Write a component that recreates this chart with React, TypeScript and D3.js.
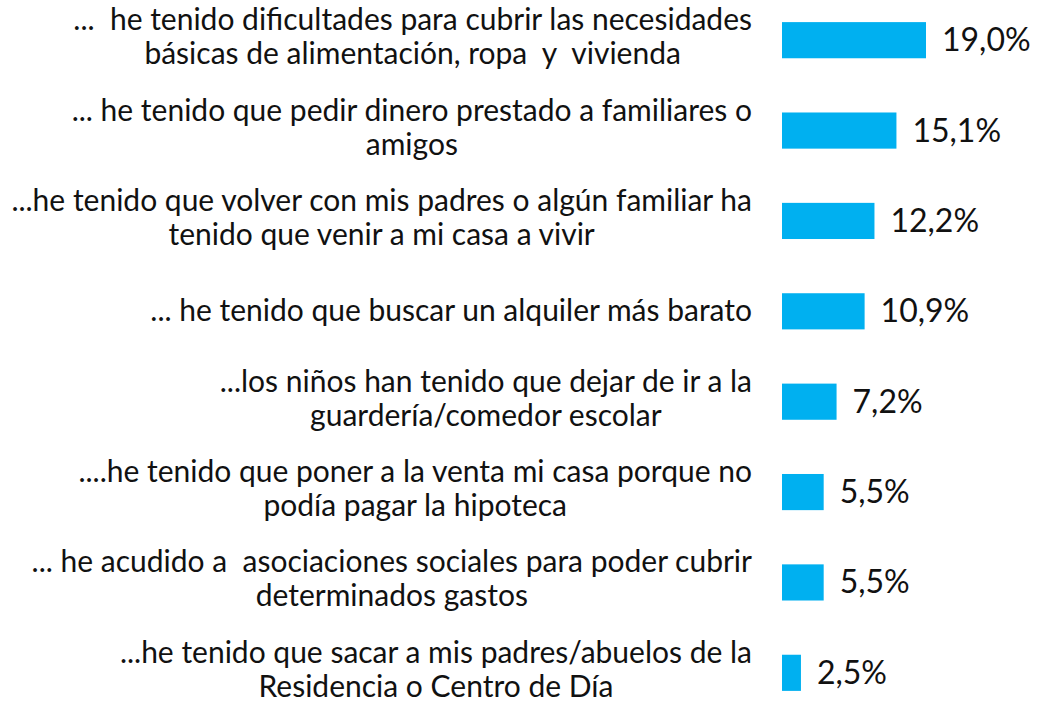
import React, { useEffect, useRef } from "react";
import * as d3 from "d3";

const categories = [
  ["...  he tenido dificultades para cubrir las necesidades", "básicas de alimentación, ropa  y  vivienda"],
  ["... he tenido que pedir dinero prestado a familiares o", "amigos"],
  ["...he tenido que volver con mis padres o algún familiar ha", "tenido que venir a mi casa a vivir"],
  ["... he tenido que buscar un alquiler más barato"],
  ["...los niños han tenido que dejar de ir a la", "guardería/comedor escolar"],
  ["....he tenido que poner a la venta mi casa porque no", "podía pagar la hipoteca"],
  ["... he acudido a  asociaciones sociales para poder cubrir", "determinados gastos"],
  ["...he tenido que sacar a mis padres/abuelos de la", "Residencia o Centro de Día"],
];
const values = [19.0, 15.1, 12.2, 10.9, 7.2, 5.5, 5.5, 2.5];
const valueLabels = ["19,0%", "15,1%", "12,2%", "10,9%", "7,2%", "5,5%", "5,5%", "2,5%"];

const width = 1038;
const height = 704;
const barLeft = 782;
const labelRight = 752;

export default function App() {
  const ref = useRef<SVGSVGElement>(null);

  useEffect(() => {
    const svg = d3.select(ref.current);
    svg.selectAll("*").remove();

    const y = d3
      .scaleBand()
      .domain(d3.range(values.length).map(String))
      .range([-5, 718])
      .paddingInner(0.6)
      .paddingOuter(0.3);

    const x = d3.scaleLinear().domain([0, 19]).range([barLeft, barLeft + 144]);

    const rows = svg
      .selectAll("g.row")
      .data(values)
      .join("g")
      .attr("class", "row");

    rows
      .append("rect")
      .attr("x", x(0))
      .attr("y", (d, i) => y(String(i)))
      .attr("width", (d) => x(d) - x(0))
      .attr("height", y.bandwidth())
      .attr("fill", "#00B0F0");

    rows
      .append("text")
      .attr("x", (d) => x(d) + 16)
      .attr("y", (d, i) => y(String(i)) + y.bandwidth() / 2 + 11)
      .attr("font-family", "Lato, sans-serif")
      .attr("font-size", 32)
      .attr("fill", "#111")
      .text((d, i) => valueLabels[i]);

    // category labels: centered lines, block right-aligned to labelRight
    rows.each(function (d, i) {
      const lines = categories[i];
      const cy = y(String(i)) + y.bandwidth() / 2;
      const g = d3.select(this).append("g");
      const texts = g
        .selectAll("text")
        .data(lines)
        .join("text")
        .attr("font-family", "Lato, sans-serif")
        .attr("font-size", 30)
        .attr("fill", "#111")
        .attr("text-anchor", "middle")
        .style("white-space", "pre")
        .attr("y", (l, j) =>
          lines.length === 1 ? cy + 10 : cy + 7 + (j - (lines.length - 1) / 2) * 34
        )
        .text((l) => l);
      const maxW = d3.max(texts.nodes(), (n) => (n as SVGTextElement).getComputedTextLength()) || 0;
      texts.attr("x", labelRight - maxW / 2);
    });
  }, []);

  return (
    <svg
      ref={ref}
      width={width}
      height={height}
      style={{ position: "absolute", left: 0, top: 0, background: "#fff" }}
    />
  );
}
